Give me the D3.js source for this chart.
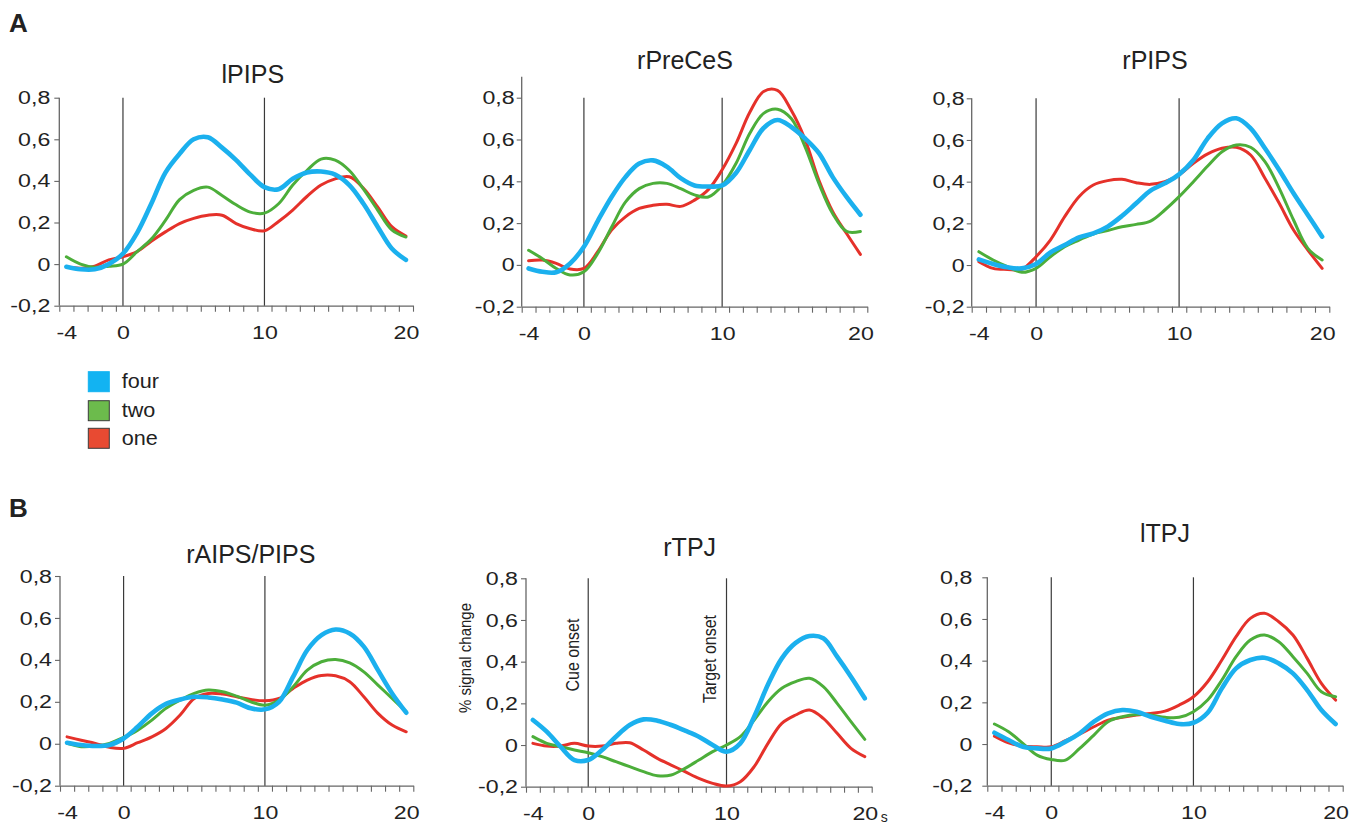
<!DOCTYPE html>
<html><head><meta charset="utf-8">
<script src="https://cdn.jsdelivr.net/npm/d3@7"></script>
<style>body{margin:0;background:#fff} svg{display:block} text{font-family:"Liberation Sans",Arial,sans-serif;fill:#222}</style>
</head><body><svg id="c" width="1361" height="826"></svg>
<script>
// ---------- DATA ----------
const timePoints = [-4,-3,-2,-1,0,1,2,3,4,5,6,7,8,9,10,11,12,13,14,15,16,17,18,19,20];
const xTickLabels = [-4, 0, 10, 20];
const yTickValues = [-0.2, 0, 0.2, 0.4, 0.6, 0.8];
const yTickLabels = ["-0,2","0","0,2","0,4","0,6","0,8"];
const seriesNames = ["four","two","one"];
const panelTitles = ["lPIPS","rPreCeS","rPIPS","rAIPS/PIPS","rTPJ","lTPJ"];
const eventTimes = [0, 10];

const lPIPS_four = [-0.013,-0.025,-0.025,0.0,0.05,0.15,0.29,0.44,0.53,0.6,0.61,0.56,0.5,0.43,0.37,0.36,0.41,0.44,0.445,0.43,0.38,0.29,0.18,0.075,0.02];
const lPIPS_two  = [0.035,0.0,-0.015,-0.01,0.0,0.06,0.12,0.21,0.31,0.355,0.37,0.33,0.285,0.25,0.245,0.29,0.38,0.45,0.505,0.5,0.45,0.36,0.26,0.165,0.13];
const lPIPS_one  = [-0.013,-0.02,-0.01,0.02,0.035,0.06,0.11,0.155,0.195,0.22,0.235,0.235,0.195,0.17,0.16,0.205,0.26,0.325,0.38,0.41,0.42,0.365,0.275,0.18,0.135];

const rPreCeS_four = [-0.017,-0.033,-0.035,0.007,0.087,0.21,0.325,0.42,0.485,0.5,0.47,0.415,0.38,0.375,0.38,0.44,0.55,0.655,0.693,0.66,0.605,0.535,0.42,0.325,0.24];
const rPreCeS_two  = [0.07,0.03,-0.017,-0.048,-0.033,0.055,0.18,0.3,0.365,0.39,0.39,0.365,0.335,0.325,0.38,0.485,0.63,0.725,0.745,0.7,0.565,0.39,0.245,0.16,0.16];
const rPreCeS_one  = [0.02,0.023,0.007,-0.02,-0.017,0.063,0.167,0.23,0.27,0.285,0.29,0.28,0.31,0.36,0.455,0.58,0.73,0.83,0.835,0.74,0.6,0.405,0.255,0.15,0.05];

const rPIPS_four = [0.027,0.005,-0.011,-0.016,0.005,0.06,0.096,0.133,0.152,0.184,0.235,0.296,0.357,0.392,0.435,0.504,0.608,0.68,0.704,0.656,0.56,0.456,0.344,0.24,0.136];
const rPIPS_two  = [0.064,0.024,-0.008,-0.035,-0.016,0.04,0.088,0.12,0.149,0.165,0.184,0.195,0.211,0.264,0.328,0.4,0.475,0.544,0.576,0.565,0.496,0.368,0.216,0.08,0.024];
const rPIPS_one  = [0.016,-0.016,-0.021,-0.021,0.04,0.12,0.232,0.328,0.384,0.405,0.411,0.395,0.387,0.4,0.432,0.488,0.533,0.56,0.565,0.528,0.416,0.296,0.168,0.072,-0.016];

const rAIPS_four = [0.005,-0.006,-0.011,-0.006,0.025,0.081,0.145,0.19,0.211,0.224,0.221,0.211,0.196,0.169,0.164,0.2,0.32,0.447,0.518,0.545,0.526,0.463,0.351,0.24,0.148];
const rAIPS_two  = [0.002,-0.014,-0.011,0.002,0.03,0.065,0.113,0.169,0.208,0.24,0.256,0.248,0.227,0.2,0.184,0.208,0.272,0.351,0.391,0.402,0.386,0.343,0.28,0.216,0.153];
const rAIPS_one  = [0.033,0.017,0.002,-0.017,-0.022,0.005,0.033,0.073,0.137,0.216,0.24,0.237,0.224,0.211,0.205,0.216,0.264,0.304,0.326,0.324,0.296,0.224,0.145,0.089,0.057];

const rTPJ_four = [0.12,0.064,-0.008,-0.072,-0.072,-0.024,0.04,0.096,0.123,0.117,0.096,0.069,0.04,0.0,-0.032,0.008,0.136,0.29,0.416,0.49,0.523,0.512,0.424,0.328,0.224];
const rTPJ_two  = [0.04,0.008,-0.008,-0.024,-0.037,-0.056,-0.08,-0.104,-0.128,-0.147,-0.144,-0.112,-0.072,-0.032,0.0,0.04,0.12,0.208,0.272,0.304,0.32,0.28,0.2,0.112,0.027];
const rTPJ_one  = [0.008,-0.005,-0.005,0.008,-0.005,-0.005,0.008,0.011,-0.024,-0.064,-0.096,-0.128,-0.16,-0.184,-0.197,-0.176,-0.104,0.008,0.104,0.144,0.168,0.128,0.056,-0.016,-0.056];

const lTPJ_four = [0.054,0.019,-0.013,-0.021,-0.021,0.011,0.051,0.107,0.147,0.163,0.155,0.131,0.112,0.096,0.102,0.15,0.267,0.363,0.403,0.414,0.387,0.339,0.259,0.163,0.096];
const lTPJ_two  = [0.096,0.059,0.003,-0.053,-0.074,-0.077,-0.021,0.043,0.107,0.131,0.142,0.139,0.128,0.128,0.155,0.211,0.307,0.419,0.499,0.523,0.491,0.419,0.339,0.251,0.227];
const lTPJ_one  = [0.038,0.006,-0.01,-0.013,-0.013,0.016,0.048,0.083,0.115,0.128,0.139,0.147,0.158,0.187,0.227,0.299,0.403,0.515,0.603,0.627,0.587,0.523,0.411,0.291,0.211];

const panelSeries = [
  {four:lPIPS_four, two:lPIPS_two, one:lPIPS_one},
  {four:rPreCeS_four, two:rPreCeS_two, one:rPreCeS_one},
  {four:rPIPS_four, two:rPIPS_two, one:rPIPS_one},
  {four:rAIPS_four, two:rAIPS_two, one:rAIPS_one},
  {four:rTPJ_four, two:rTPJ_two, one:rTPJ_one},
  {four:lTPJ_four, two:lTPJ_two, one:lTPJ_one}
];

// ---------- LAYOUT / STYLE ----------
const colors = {four:"#1bb0ee", two:"#4cae3a", one:"#e5312a"};
const widths = {four:4.6, two:3, one:3};
const layout = [
  {L:59.3, R:413,   top:97.7,  bot:305.7, yMax:0.8, tx:252.8, ty:82.7, gap:9},
  {L:521.7,R:867.3, top:97.7,  bot:306.7, yMax:0.9, tx:685,   ty:69.3, gap:7},
  {L:971.7,R:1329.3,top:98.3,  bot:306.7, yMax:0.8, tx:1155,  ty:69,   gap:7},
  {L:60,   R:413.3, top:576,   bot:785.7, yMax:0.8, tx:250.8, ty:562.7,gap:8},
  {L:526,  R:871.7, top:578.3, bot:786.7, yMax:0.8, tx:689.7, ty:556,  gap:8},
  {L:987.3,R:1342.7,top:577.3, bot:785.7, yMax:0.8, tx:1165,  ty:541.7,gap:15}
];
const stretch = 1.22;
const svg = d3.select("#c");

svg.append("text").attr("x",9).attr("y",31.7).attr("font-size",26).attr("font-weight","bold").attr("fill","#000").text("A");
svg.append("text").attr("x",9).attr("y",516.7).attr("font-size",26).attr("font-weight","bold").attr("fill","#000").text("B");

const halfTicks = d3.range(-4.5, 21, 1);

panelTitles.forEach((title, i) => {
  const lay = layout[i];
  const x = d3.scaleLinear().domain([-4.5, 20.5]).range([lay.L, lay.R]);
  const y = d3.scaleLinear().domain([-0.2, 0.8]).range([lay.bot, lay.top]);
  const g = svg.append("g");

  g.append("text").attr("x", lay.tx).attr("y", lay.ty).attr("text-anchor","middle")
    .attr("font-size", 25).text(title);

  // y axis
  const ya = g.append("g").attr("transform", `translate(${lay.L},0)`)
    .call(d3.axisLeft(y).tickValues(yTickValues).tickSize(5).tickFormat((d,k)=>yTickLabels[k]));
  ya.select(".domain").remove();
  ya.selectAll("line").attr("stroke","#666").attr("stroke-width",1.1);
  ya.selectAll("text").attr("x",0).attr("font-size",19).attr("fill","#222")
    .attr("font-family","'Liberation Sans',Arial,sans-serif")
    .attr("transform",`translate(${-lay.gap},0) scale(${stretch},1)`);
  g.append("line").attr("x1",lay.L).attr("x2",lay.L).attr("y1",y(-0.2)).attr("y2",y(lay.yMax))
    .attr("stroke","#666").attr("stroke-width",1.3);

  // x axis: tick marks between time points
  const xa = g.append("g").attr("transform", `translate(0,${lay.bot})`)
    .call(d3.axisBottom(x).tickValues(halfTicks).tickSize(6).tickSizeOuter(0).tickFormat(""));
  xa.select(".domain").attr("stroke","#666").attr("stroke-width",1.3);
  xa.selectAll("line").attr("stroke","#666").attr("stroke-width",1.1);
  // x labels
  const xl = g.append("g").attr("transform", `translate(0,${lay.bot})`)
    .call(d3.axisBottom(x).tickValues(xTickLabels).tickSize(0).tickFormat(d => String(d)));
  xl.select(".domain").remove();
  xl.selectAll("text").attr("y",0).attr("font-size",19).attr("fill","#222")
    .attr("font-family","'Liberation Sans',Arial,sans-serif")
    .attr("transform",`translate(0,20) scale(${stretch},1)`);

  // event lines
  eventTimes.forEach(t => {
    g.append("line").attr("x1",x(t)).attr("x2",x(t)).attr("y1",y(0.8)).attr("y2",y(-0.2))
      .attr("stroke","#3a3a3a").attr("stroke-width",1.2);
  });

  // series
  const line = d3.line().x((d,k)=>x(timePoints[k])).y(d=>y(d)).curve(d3.curveCatmullRom.alpha(0.5));
  ["one","two","four"].forEach(s => {
    g.append("path").attr("d", line(panelSeries[i][s])).attr("fill","none")
      .attr("stroke", colors[s]).attr("stroke-width", widths[s])
      .attr("stroke-linejoin","round").attr("stroke-linecap","round");
  });

  if (title === "rTPJ") {
    g.append("text").attr("x", x(20)+16).attr("y", lay.bot+35).attr("font-size",14).text("s");
    g.append("text").attr("transform",`translate(471,658) scale(1.15,1) rotate(-90)`)
      .attr("text-anchor","middle").attr("font-size",15).text("% signal change");
    g.append("text").attr("transform",`translate(${x(0)-9},655) scale(1.15,1) rotate(-90)`)
      .attr("text-anchor","middle").attr("font-size",16).text("Cue onset");
    g.append("text").attr("transform",`translate(${x(10)-11},659) scale(1.15,1) rotate(-90)`)
      .attr("text-anchor","middle").attr("font-size",16).text("Target onset");
  }
});

// legend
const legY = [371.7, 400.7, 428.3];
seriesNames.forEach((s,k) => {
  svg.append("rect").attr("x",88.3).attr("y",legY[k]).attr("width",21).attr("height",20)
    .attr("fill", s==="four" ? "#12b3f2" : s==="two" ? "#6cbb4c" : "#e84a32")
    .attr("stroke", s==="four" ? "#12b3f2" : "#3b3b3b").attr("stroke-width",1);
  svg.append("text").attr("x",121.7).attr("y",legY[k]+16.5).attr("font-size",20)
    .attr("transform",`translate(121.7,0) scale(1.08,1) translate(-121.7,0)`).text(s);
});
</script></body></html>
